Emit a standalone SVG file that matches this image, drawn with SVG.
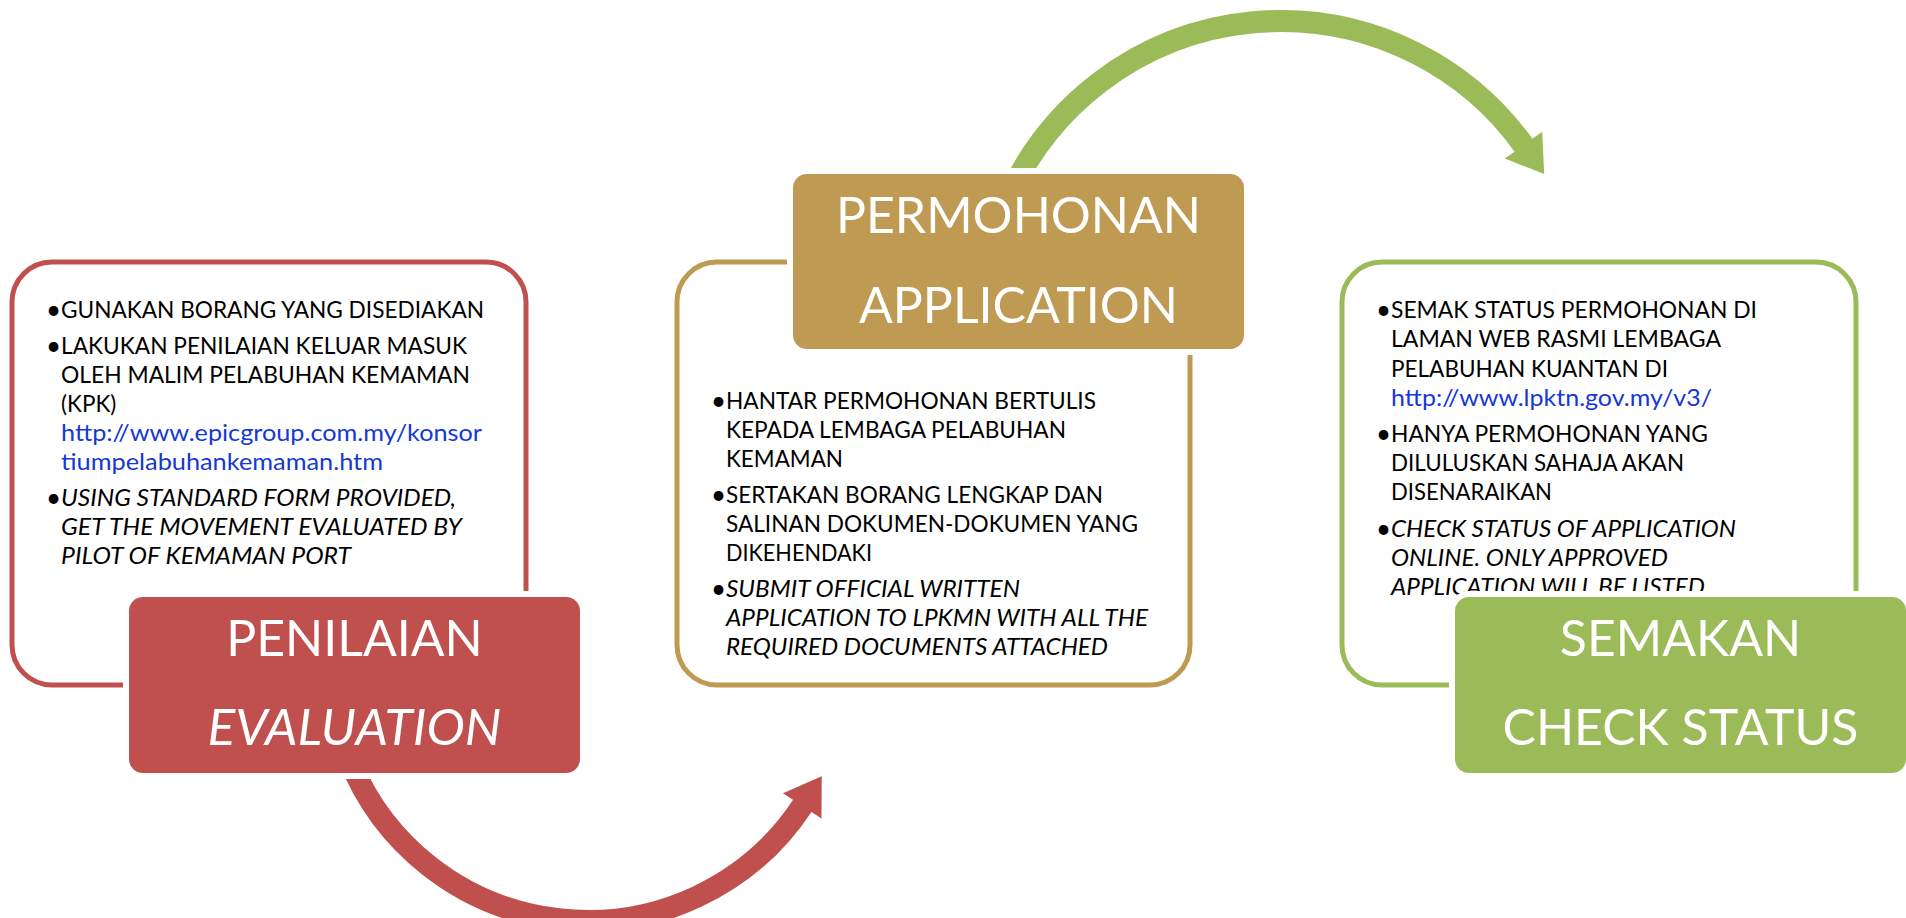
<svg xmlns="http://www.w3.org/2000/svg" width="1906" height="918" viewBox="0 0 1906 918">
<style>
.frame{fill:#FFFFFF;stroke-width:5}
.t{font-family:Lato,"Liberation Sans",sans-serif;font-size:22.5px;fill:#000000}
.b{font-family:Lato,"Liberation Sans",sans-serif;font-size:26px;fill:#000000}
.i{font-style:italic}
.lnk{fill:#1538D6}
.title{stroke:#FFFFFF;stroke-width:12;paint-order:stroke}
.tt{font-family:Lato,"Liberation Sans",sans-serif;font-size:50px;fill:#FFFFFF;text-anchor:middle}
.arc{fill:none;stroke-width:22;stroke-linecap:butt}
</style>
<defs>
<marker id="headRed" markerUnits="userSpaceOnUse" viewBox="-2 -24 38 48" refX="0" refY="0" markerWidth="38" markerHeight="48" orient="auto" overflow="visible">
<path d="M-1,-23 L34.5,0 L-1,23 Z" fill="#C0504D"/>
</marker>
<marker id="headGreen" markerUnits="userSpaceOnUse" viewBox="-2 -24 38 48" refX="0" refY="0" markerWidth="38" markerHeight="48" orient="auto" overflow="visible">
<path d="M-1,-23 L34.5,0 L-1,23 Z" fill="#9BBB59"/>
</marker>
</defs>
<rect x="0" y="0" width="1906" height="918" fill="#FFFFFF"/>

<g id="connectors">
<path class="arc" d="M346.5,751.9 A257,257 0 0,0 802.8,805.1" stroke="#C0504D" marker-end="url(#headRed)"/>
<path class="arc" d="M1010,193.6 A299,299 0 0,1 1524.1,146" stroke="#9BBB59" stroke-width="21" marker-end="url(#headGreen)"/>
</g>

<g id="node-penilaian">
<rect class="frame" x="12" y="262" width="514" height="423" rx="40" stroke="#C0504D"/>
<text class="b" x="46" y="319">•</text>
<text class="t" x="61" y="318" textLength="423" lengthAdjust="spacingAndGlyphs">GUNAKAN BORANG YANG DISEDIAKAN</text>
<text class="b" x="46" y="355">•</text>
<text class="t" x="61" y="354" textLength="406" lengthAdjust="spacingAndGlyphs">LAKUKAN PENILAIAN KELUAR MASUK</text>
<text class="t" x="61" y="383" textLength="409" lengthAdjust="spacingAndGlyphs">OLEH MALIM PELABUHAN KEMAMAN</text>
<text class="t" x="61" y="412">(KPK)</text>
<text class="t lnk" x="61" y="441" textLength="421" lengthAdjust="spacingAndGlyphs">http://www.epicgroup.com.my/konsor</text>
<text class="t lnk" x="61" y="470" textLength="322" lengthAdjust="spacingAndGlyphs">tiumpelabuhankemaman.htm</text>
<text class="b" x="46" y="507">•</text>
<text class="t i" x="61" y="506" textLength="395" lengthAdjust="spacingAndGlyphs">USING STANDARD FORM PROVIDED,</text>
<text class="t i" x="61" y="535" textLength="401" lengthAdjust="spacingAndGlyphs">GET THE MOVEMENT EVALUATED BY</text>
<text class="t i" x="61" y="564" textLength="290" lengthAdjust="spacingAndGlyphs">PILOT OF KEMAMAN PORT</text>
<rect class="title" x="129" y="597" width="451" height="176" rx="14" fill="#C0504D"/>
<text class="tt" x="354.5" y="656">PENILAIAN</text>
<text class="tt i" x="354.5" y="745" textLength="294" lengthAdjust="spacingAndGlyphs">EVALUATION</text>
</g>

<g id="node-permohonan">
<rect class="frame" x="677" y="262" width="513" height="423" rx="40" stroke="#BE9A52"/>
<text class="b" x="711" y="410">•</text>
<text class="t" x="726" y="409" textLength="370" lengthAdjust="spacingAndGlyphs">HANTAR PERMOHONAN BERTULIS</text>
<text class="t" x="726" y="438" textLength="340" lengthAdjust="spacingAndGlyphs">KEPADA LEMBAGA PELABUHAN</text>
<text class="t" x="726" y="467" textLength="117" lengthAdjust="spacingAndGlyphs">KEMAMAN</text>
<text class="b" x="711" y="504">•</text>
<text class="t" x="726" y="503" textLength="377" lengthAdjust="spacingAndGlyphs">SERTAKAN BORANG LENGKAP DAN</text>
<text class="t" x="726" y="532" textLength="412" lengthAdjust="spacingAndGlyphs">SALINAN DOKUMEN-DOKUMEN YANG</text>
<text class="t" x="726" y="561" textLength="146" lengthAdjust="spacingAndGlyphs">DIKEHENDAKI</text>
<text class="b" x="711" y="598">•</text>
<text class="t i" x="726" y="597" textLength="294" lengthAdjust="spacingAndGlyphs">SUBMIT OFFICIAL WRITTEN</text>
<text class="t i" x="726" y="626" textLength="422" lengthAdjust="spacingAndGlyphs">APPLICATION TO LPKMN WITH ALL THE</text>
<text class="t i" x="726" y="655" textLength="382" lengthAdjust="spacingAndGlyphs">REQUIRED DOCUMENTS ATTACHED</text>
<rect class="title" x="793" y="174" width="451" height="175" rx="14" fill="#BE9A52"/>
<text class="tt" x="1018.5" y="233">PERMOHONAN</text>
<text class="tt" x="1018.5" y="323">APPLICATION</text>
</g>

<g id="node-semakan">
<rect class="frame" x="1342" y="262" width="514" height="423" rx="40" stroke="#9BBB59"/>
<text class="b" x="1376" y="319">•</text>
<text class="t" x="1391" y="318" textLength="366" lengthAdjust="spacingAndGlyphs">SEMAK STATUS PERMOHONAN DI</text>
<text class="t" x="1391" y="347" textLength="330" lengthAdjust="spacingAndGlyphs">LAMAN WEB RASMI LEMBAGA</text>
<text class="t" x="1391" y="377" textLength="277" lengthAdjust="spacingAndGlyphs">PELABUHAN KUANTAN DI</text>
<text class="t lnk" x="1391" y="406" textLength="321" lengthAdjust="spacingAndGlyphs">http://www.lpktn.gov.my/v3/</text>
<text class="b" x="1376" y="443">•</text>
<text class="t" x="1391" y="442" textLength="317" lengthAdjust="spacingAndGlyphs">HANYA PERMOHONAN YANG</text>
<text class="t" x="1391" y="471" textLength="293" lengthAdjust="spacingAndGlyphs">DILULUSKAN SAHAJA AKAN</text>
<text class="t" x="1391" y="500" textLength="161" lengthAdjust="spacingAndGlyphs">DISENARAIKAN</text>
<text class="b" x="1376" y="538">•</text>
<text class="t i" x="1391" y="537" textLength="345" lengthAdjust="spacingAndGlyphs">CHECK STATUS OF APPLICATION</text>
<text class="t i" x="1391" y="566" textLength="277" lengthAdjust="spacingAndGlyphs">ONLINE. ONLY APPROVED</text>
<text class="t i" x="1391" y="595" textLength="314" lengthAdjust="spacingAndGlyphs">APPLICATION WILL BE LISTED</text>
<rect class="title" x="1455" y="597" width="451" height="176" rx="14" fill="#9BBB59"/>
<text class="tt" x="1680.5" y="656">SEMAKAN</text>
<text class="tt" x="1680.5" y="745">CHECK STATUS</text>
</g>
</svg>
